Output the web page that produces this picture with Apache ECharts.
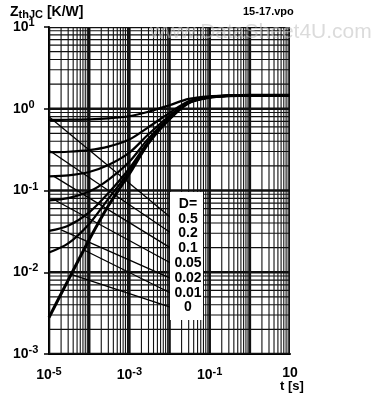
<!DOCTYPE html>
<html><head><meta charset="utf-8">
<script src="https://cdn.jsdelivr.net/npm/echarts@6/dist/echarts.min.js"></script>
<style>html,body{margin:0;padding:0;background:#fff}#c{width:390px;height:397px}</style>
</head><body><div id="c"></div>
<script>
// time points [s]
const tPoints = [1e-5, 3e-5, 1e-4, 3e-4, 1e-3, 3e-3, 1e-2, 3e-2, 1e-1, 3e-1, 1, 3, 10];
// ZthJC [K/W] for each duty cycle D
const zD0    = [0.0028, 0.008, 0.025, 0.065, 0.16, 0.38, 0.75, 1.18, 1.38, 1.44, 1.46, 1.46, 1.46];
const zD001  = [0.0174, 0.0225, 0.039, 0.079, 0.173, 0.39, 0.757, 1.183, 1.38, 1.44, 1.46, 1.46, 1.46];
const zD002  = [0.032, 0.037, 0.054, 0.093, 0.186, 0.40, 0.764, 1.186, 1.382, 1.44, 1.46, 1.46, 1.46];
const zD005  = [0.0757, 0.0806, 0.097, 0.135, 0.225, 0.434, 0.786, 1.194, 1.384, 1.441, 1.46, 1.46, 1.46];
const zD01   = [0.1485, 0.153, 0.1685, 0.2045, 0.29, 0.488, 0.821, 1.208, 1.388, 1.442, 1.46, 1.46, 1.46];
const zD02   = [0.294, 0.298, 0.312, 0.344, 0.42, 0.596, 0.892, 1.236, 1.396, 1.444, 1.46, 1.46, 1.46];
const zD05   = [0.731, 0.734, 0.7425, 0.7625, 0.81, 0.92, 1.105, 1.32, 1.42, 1.45, 1.46, 1.46, 1.46];
const dLabels = ['D=', '0.5', '0.2', '0.1', '0.05', '0.02', '0.01', '0'];
// leader lines: [t, Z] from curve to label
const leader05  = [[1.0e-5, 0.80], [0.0119, 0.0448]];
const leader02  = [[1.0e-5, 0.31], [0.0119, 0.0294]];
const leader01  = [[1.3e-5, 0.150], [0.0119, 0.0192]];
const leader005 = [[1.5e-5, 0.0750], [0.0119, 0.0126]];
const leader002 = [[2.0e-5, 0.0330], [0.0119, 0.00826]];
const leader001 = [[7.0e-5, 0.0190], [0.0119, 0.00542]];
const leader0   = [[3.4e-5, 0.0095], [0.0119, 0.00366]];
const xTickLabels = {'-5': '-5', '-3': '-3', '-1': '-1', '1': ''};
const yTickExps = [1, 0, -1, -2, -3];
const X_MIN = 1e-5, X_MAX = 10, Y_MIN = 1e-3, Y_MAX = 10;

const chart = echarts.init(document.getElementById('c'));
const FONT = 'Liberation Sans, Arial, sans-serif';

function pairs(arr) { return tPoints.map((t, i) => [t, arr[i]]); }

// grid lines: [x, y, width, orientation(0 = vertical, 1 = horizontal)]
const gridLines = [];
for (let e = -5; e <= 1; e++) {
  for (let k = 1; k <= 9; k++) {
    const v = k * Math.pow(10, e);
    if (v < X_MIN * 0.999 || v > X_MAX * 1.001) continue;
    gridLines.push([v, 1, k === 1 ? 2.6 : 1.1, 0]);
  }
}
for (let e = -3; e <= 1; e++) {
  for (let k = 1; k <= 9; k++) {
    const v = k * Math.pow(10, e);
    if (v < Y_MIN * 0.999 || v > Y_MAX * 1.001) continue;
    gridLines.push([1, v, k === 1 ? 2.6 : 1.1, 1]);
  }
}

function curve(data, w) {
  return {type: 'line', data: pairs(data), showSymbol: false, smooth: 0.3, silent: true,
    lineStyle: {color: '#000', width: w}, z: 5};
}
function leader(d) {
  return {type: 'line', data: d, showSymbol: false, silent: true,
    lineStyle: {color: '#000', width: 1.3}, z: 4};
}
const supRich = {
  b: {fontFamily: FONT, fontSize: 14, fontWeight: 'bold', color: '#000'},
  s: {fontFamily: FONT, fontSize: 11, fontWeight: 'bold', color: '#000', padding: [0, 0, 8, 0]}
};

const labelTexts = dLabels.map((s, i) => ({
  type: 'text', x: 188, y: 197 + i * 14.8, z: 20,
  style: {text: s, fontFamily: FONT, fontSize: 14, fontWeight: 'bold', fill: '#000', textAlign: 'center'}
}));

chart.setOption({
  animation: false,
  backgroundColor: '#fff',
  grid: {left: 49, right: 100, top: 27, bottom: 43},
  xAxis: {
    type: 'log', logBase: 10, min: X_MIN, max: X_MAX,
    axisLine: {show: true, lineStyle: {color: '#000', width: 2}},
    axisTick: {show: false}, splitLine: {show: false},
    axisLabel: {
      margin: 12,
      formatter: v => {
        const e = Math.round(Math.log10(v));
        const key = String(e);
        if (!(key in xTickLabels)) return '';
        return xTickLabels[key] === '' ? '{b|10}' : '{b|10}{s|' + xTickLabels[key] + '}';
      },
      rich: supRich
    }
  },
  yAxis: {
    type: 'log', logBase: 10, min: Y_MIN, max: Y_MAX,
    axisLine: {show: true, lineStyle: {color: '#000', width: 2}},
    axisTick: {show: true, length: 5, lineStyle: {color: '#000', width: 1.5}},
    splitLine: {show: false},
    axisLabel: {
      margin: 36, align: 'left',
      formatter: v => {
        const e = Math.round(Math.log10(v));
        if (yTickExps.indexOf(e) < 0) return '';
        return '{b|10}{s|' + e + '}';
      },
      rich: supRich
    }
  },
  graphic: [
    {type: 'rect', shape: {x: 170, y: 192, width: 33, height: 128}, style: {fill: '#fff'}, z: 15},
    ...labelTexts,
    {type: 'text', x: 10, y: 5, z: 20, style: {
      text: '{z|Z}{t|thJC}{z| [K/W]}', rich: {
        z: {fontFamily: FONT, fontSize: 14, fontWeight: 'bold', fill: '#000'},
        t: {fontFamily: FONT, fontSize: 11, fontWeight: 'bold', fill: '#000', padding: [4, 0, 0, 0]}
      }}},
    {type: 'text', x: 243, y: 6, z: 20, style: {text: '15-17.vpo', fontFamily: FONT, fontSize: 11, fontWeight: 'bold', fill: '#000'}},
    {type: 'text', x: 280, y: 380, z: 20, style: {text: 't [s]', fontFamily: FONT, fontSize: 13, fontWeight: 'bold', fill: '#000'}},
    {type: 'text', x: 150, y: 22, z: 30, style: {text: 'www.DataSheet4U.com', fontFamily: FONT, fontSize: 21, fill: 'rgba(190,190,190,0.55)'}}
  ],
  series: [
    {type: 'custom', data: gridLines, silent: true, z: 1, clip: true,
      renderItem: (params, api) => {
        const o = api.value(3), w = api.value(2);
        let p1, p2;
        if (o === 0) { const x = api.value(0); p1 = api.coord([x, Y_MIN]); p2 = api.coord([x, Y_MAX]); }
        else { const y = api.value(1); p1 = api.coord([X_MIN, y]); p2 = api.coord([X_MAX, y]); }
        return {type: 'line', shape: {x1: p1[0], y1: p1[1], x2: p2[0], y2: p2[1]},
          style: {stroke: '#111', lineWidth: w}};
      }},
    curve(zD0, 3), curve(zD001, 2.2), curve(zD002, 2.2), curve(zD005, 2.2),
    curve(zD01, 2.2), curve(zD02, 2.2), curve(zD05, 2.2),
    leader(leader05), leader(leader02), leader(leader01), leader(leader005),
    leader(leader002), leader(leader001), leader(leader0)
  ]
});
</script></body></html>
